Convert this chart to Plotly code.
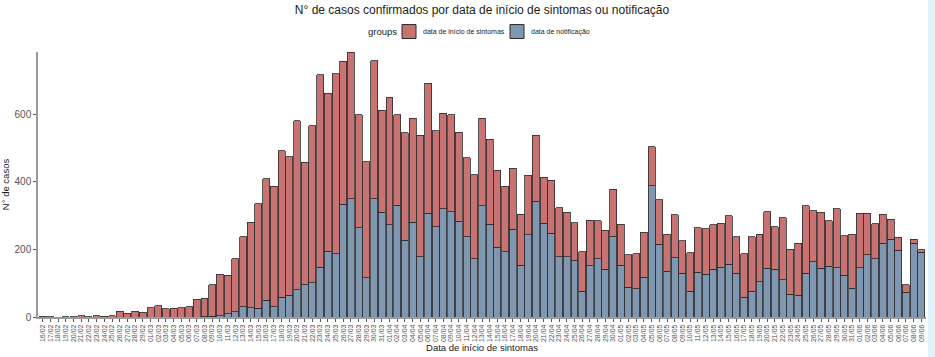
import plotly.graph_objects as go
import pandas as pd

# Categories: one bar per day, 16/02 to 09/06 (2020)
datas = pd.date_range("2020-02-16", "2020-06-09", freq="D").strftime("%d/%m").tolist()

# "data de notificação" (blue, bottom segment)
notificacao = [
    0, 0, 0, 0, 0, 0, 0, 0, 0, 0,
    0, 0, 0, 0, 0, 0, 0, 0, 0, 0,
    0, 1, 2, 4, 9, 16, 30, 28, 26, 50,
    30, 58, 65, 80, 95, 102, 147, 195, 187, 334,
    350, 265, 117, 350, 310, 274, 331, 227, 281, 179,
    307, 267, 320, 312, 283, 238, 173, 329, 275, 207,
    194, 260, 153, 244, 343, 278, 248, 179, 179, 167,
    76, 152, 173, 142, 238, 153, 88, 83, 118, 389,
    215, 135, 176, 129, 76, 132, 127, 141, 147, 157,
    129, 58, 76, 105, 144, 142, 111, 68, 64, 130,
    163, 144, 150, 146, 124, 85, 146, 185, 173, 219,
    231, 198, 73, 219, 192,
]

# "data de início de sintomas" (red, stacked on top)
sintomas = [
    2, 1, 0, 1, 1, 3, 1, 4, 2, 4,
    17, 11, 17, 14, 27, 34, 24, 26, 27, 30,
    53, 54, 93, 122, 114, 157, 207, 253, 310, 360,
    358, 434, 410, 502, 363, 465, 571, 468, 533, 423,
    435, 334, 343, 409, 302, 377, 268, 319, 308, 359,
    385, 285, 283, 287, 264, 234, 248, 260, 252, 227,
    193, 181, 151, 176, 195, 136, 157, 145, 131, 112,
    118, 135, 112, 115, 140, 122, 97, 104, 133, 115,
    133, 110, 127, 97, 115, 132, 134, 133, 130, 143,
    109, 129, 161, 140, 168, 126, 183, 132, 155, 200,
    152, 167, 135, 174, 116, 160, 162, 122, 103, 86,
    59, 38, 23, 12, 7,
]

y_ticks = [0, 200, 400, 600]
series_names = ["data de início de sintomas", "data de notificação"]

COR_SINTOMAS = "#C87272"
COR_NOTIF = "#7F97B1"
CONTORNO = "#2b2b2b"
FONTE = "Liberation Sans, Arial, Helvetica, sans-serif"

# plot-area geometry (pixels) used to place the hand-made legend
L, R, T, B = 38, 9, 51.5, 40
W, H = 935, 357
PW, PH = W - L - R, H - T - B


def px(x):
    return (x - L) / PW


def py(y):
    return (H - B - y) / PH


fig = go.Figure()
fig.add_trace(go.Bar(
    x=datas, y=notificacao, name=series_names[1],
    marker=dict(color=COR_NOTIF, line=dict(color=CONTORNO, width=0.8)),
))
fig.add_trace(go.Bar(
    x=datas, y=sintomas, name=series_names[0],
    marker=dict(color=COR_SINTOMAS, line=dict(color=CONTORNO, width=0.8)),
))

# legend drawn as swatches + text (ggplot style: title on the left, tight spacing)
leg_y = 31
shapes = []
annotations = [dict(
    text="groups", xref="paper", yref="paper", x=px(399), y=py(leg_y),
    xanchor="right", yanchor="middle", showarrow=False,
    font=dict(size=9.5, color="#222222", family=FONTE),
)]
for nome, cor, x0, xt in [(series_names[0], COR_SINTOMAS, 402, 421),
                          (series_names[1], COR_NOTIF, 510, 529)]:
    shapes.append(dict(
        type="rect", xref="paper", yref="paper",
        x0=px(x0), x1=px(x0 + 14), y0=py(leg_y + 7), y1=py(leg_y - 7),
        fillcolor=cor, line=dict(color=CONTORNO, width=1),
    ))
    annotations.append(dict(
        text=nome, xref="paper", yref="paper", x=px(xt), y=py(leg_y),
        xanchor="left", yanchor="middle", showarrow=False,
        font=dict(size=7, color="#222222", family=FONTE),
    ))

shapes.append(dict(
    type="rect", xref="paper", yref="paper",
    x0=px(928), x1=px(936), y0=py(H + 1), y1=py(-1),
    fillcolor="#DDF4FB", line=dict(width=0), layer="below",
))

fig.update_layout(
    width=W, height=H,
    barmode="stack", bargap=0.1, showlegend=False,
    paper_bgcolor="white", plot_bgcolor="white",
    margin=dict(l=L, r=R, t=T, b=B, pad=0, autoexpand=False),
    font=dict(family=FONTE, color="#333333"),
    title=dict(
        text="N° de casos confirmados por data de início de sintomas ou notificação",
        x=0.5, xref="paper", xanchor="center",
        y=1 - 10 / H, yref="container", yanchor="middle",
        font=dict(size=12, color="#222222", family=FONTE),
    ),
    xaxis=dict(
        type="category", range=[-0.6, len(datas) - 0.4], dtick=1,
        tickangle=-90, tickfont=dict(size=7, color="#555555"),
        ticks="outside", ticklen=3, tickcolor="#555555", tickwidth=0.8,
        showline=True, linecolor="#9a9a9a", linewidth=1.5,
        showgrid=False, zeroline=False, automargin=False,
        title=dict(text="Data de início de sintomas", font=dict(size=9.5, color="#222222"), standoff=3),
    ),
    yaxis=dict(
        range=[0, 785], tickvals=y_ticks,
        tickfont=dict(size=10, color="#555555"),
        ticks="outside", ticklen=3, tickcolor="#555555", tickwidth=0.8,
        showline=True, linecolor="#9a9a9a", linewidth=1.5,
        showgrid=False, zeroline=False, automargin=False,
        title=dict(text="N° de casos", font=dict(size=9.5, color="#222222"), standoff=3),
    ),
    shapes=shapes,
    annotations=annotations,
)

fig.write_html(
    "out.html",
    config={"displayModeBar": False},
    post_script="document.body.style.margin='0';document.body.style.overflow='hidden';",
)
